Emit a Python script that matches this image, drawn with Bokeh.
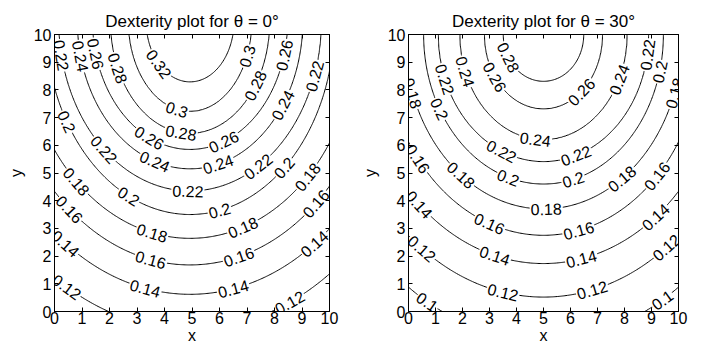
import numpy as np
from bokeh.plotting import figure
from bokeh.layouts import row
from bokeh.models import Range1d, LinearAxis, FixedTicker
from bokeh.embed import file_html
from bokeh.resources import INLINE
from bokeh.core.properties import value

# ---------------- data ----------------
ticks = [0, 1, 2, 3, 4, 5, 6, 7, 8, 9, 10]
tick_labels = [str(t) for t in ticks]

# theta = 0 deg : contour levels, height where each contour crosses x = 5,
# and horizontal half-width of each (elliptic) contour
levels_0 = [0.12, 0.14, 0.16, 0.18, 0.20, 0.22, 0.24, 0.26, 0.28, 0.30, 0.32]
mid_y_0 = [-0.64, 0.62, 1.68, 2.64, 3.50, 4.35, 5.15, 5.85, 6.43, 7.22, 8.29]
half_w_0 = [8.87, 7.80, 6.89, 6.13, 5.25, 4.78, 4.10, 3.55, 2.90, 2.25, 1.60]
centre_x_0 = 4.93
centre_y_0 = 10.5

# theta = 30 deg
levels_30 = [0.10, 0.12, 0.14, 0.16, 0.18, 0.20, 0.22, 0.24, 0.26, 0.28]
mid_y_30 = [-1.03, 0.52, 1.73, 2.75, 3.70, 4.60, 5.41, 6.20, 7.31, 8.31]
half_w_30 = [8.89, 7.77, 6.86, 5.92, 5.15, 4.44, 3.90, 3.10, 2.19, 1.49]
centre_x_30 = 5.0
centre_y_30 = 10.0

# where the inline contour labels sit (x position along each contour)
label_pos_0 = [[0.45, 8.55], [0.4, 3.3, 6.5, 9.45], [0.55, 3.5, 6.7, 9.5],
               [0.8, 3.55, 6.85, 9.2], [0.45, 2.7, 6.0, 8.35],
               [0.25, 1.8, 4.85, 7.4, 9.45], [0.95, 3.65, 5.95, 8.3],
               [1.5, 3.45, 6.15, 8.35], [2.3, 4.6, 7.3], [4.45, 7.0], [3.8]]
label_pos_30 = [[0.7, 9.4], [0.5, 3.5, 6.8, 9.55], [0.4, 3.2, 6.4, 9.15],
                [0.35, 3.0, 6.3, 9.2], [0.15, 1.95, 5.1, 7.9, 9.85],
                [1.15, 3.7, 6.1, 9.3], [1.35, 3.45, 6.2, 8.85],
                [2.1, 4.7, 7.8], [3.2, 6.4], [3.7]]

FONT = "Liberation Sans"
FIG_H = 347


def field(levels, mid_y, half_w, xc, yc, X, Y):
    L = np.array(levels)
    A = np.array(half_w)[:, None, None]
    B = (yc - np.array(mid_y))[:, None, None]
    T = np.sqrt(((X[None] - xc) / A) ** 2 + ((Y[None] - yc) / B) ** 2)
    m = (T <= 1).sum(axis=0)
    idx = np.clip(m - 1, 0, len(L) - 2)
    t0 = np.take_along_axis(T, idx[None], 0)[0]
    t1 = np.take_along_axis(T, (idx + 1)[None], 0)[0]
    den = t1 - t0
    ok = den > 1e-9
    frac = np.where(ok, (1 - t0) / np.where(ok, den, 1.0), 1.0)
    return L[idx] + (L[idx + 1] - L[idx]) * frac


def make_plot(title, levels, mid_y, half_w, xc, yc, label_pos,
              width, border_left, border_right, frame_w):
    p = figure(width=width, height=FIG_H, x_range=Range1d(0, 10), y_range=Range1d(0, 10),
               output_backend="svg", toolbar_location=None,
               min_border_left=border_left, min_border_right=border_right,
               min_border_top=34, min_border_bottom=FIG_H - 34 - 277,
               background_fill_color="white", border_fill_color="white")
    p.outline_line_color = "black"
    p.grid.visible = False

    p.title.text = title
    p.title.align = "center"
    p.title.text_font = FONT
    p.title.text_font_size = "17px"
    p.title.text_font_style = "normal"
    p.title.text_color = "black"
    p.title.standoff = 8

    for ax, lab in ((p.below[0], "x"), (p.left[0], "y")):
        ax.ticker = FixedTicker(ticks=ticks)
        ax.major_label_overrides = {t: s for t, s in zip(ticks, tick_labels)}
        ax.major_label_text_font = FONT
        ax.major_label_text_font_size = "16px"
        ax.major_label_text_color = "black"
        ax.major_tick_in = 4
        ax.major_tick_out = 0
        ax.minor_tick_in = 0
        ax.minor_tick_out = 0
        ax.axis_line_color = "black"
        ax.major_tick_line_color = "black"
        ax.axis_label = lab
        ax.axis_label_text_font = FONT
        ax.axis_label_text_font_size = "16px"
        ax.axis_label_text_font_style = "normal"
        ax.axis_label_text_color = "black"
    p.below[0].major_label_standoff = 0
    p.below[0].axis_label_standoff = 0
    p.left[0].major_label_standoff = 3
    p.left[0].axis_label_standoff = 6

    # mirrored tick marks on the top and right sides (box on), no labels
    for side in ("above", "right"):
        ax = LinearAxis(ticker=FixedTicker(ticks=ticks), major_label_text_font_size="1px",
                        major_label_text_color=None, major_label_standoff=0,
                        major_tick_in=4, major_tick_out=0,
                        minor_tick_in=0, minor_tick_out=0, axis_line_color="black",
                        major_tick_line_color="black")
        p.add_layout(ax, side)

    xs = np.linspace(0, 10, 241)
    X, Y = np.meshgrid(xs, xs)
    Z = field(levels, mid_y, half_w, xc, yc, X, Y)
    p.contour(x=X, y=Y, z=Z, levels=levels, line_color="black", line_width=1)

    # inline labels following the contours
    lx, ly, lt, la = [], [], [], []
    sx = frame_w / 10.0
    sy = 277 / 10.0
    for lev, my, a, xs_l in zip(levels, mid_y, half_w, label_pos):
        b = yc - my
        for x in xs_l:
            u = (x - xc) / a
            s = np.sqrt(max(1 - u * u, 1e-6))
            y = yc - b * s
            slope = b * u / (a * s)
            lx.append(x)
            ly.append(y)
            lt.append("%g" % lev)
            la.append(float(np.arctan(slope * sy / sx)))
    p.text(x=lx, y=ly, text=lt, angle=la, text_align="center", text_baseline="middle",
           text_font=value(FONT), text_font_size="16px", text_color="black",
           background_fill_color="white", padding=1)
    return p


p1 = make_plot("Dexterity plot for \u03b8 = 0\u00b0", levels_0, mid_y_0, half_w_0,
               centre_x_0, centre_y_0, label_pos_0, 358, 54, 29, 275)
p2 = make_plot("Dexterity plot for \u03b8 = 30\u00b0", levels_30, mid_y_30, half_w_30,
               centre_x_30, centre_y_30, label_pos_30, 344, 46, 24, 274)

layout = row(p1, p2)
open("out.html", "w").write(file_html(layout, INLINE))
